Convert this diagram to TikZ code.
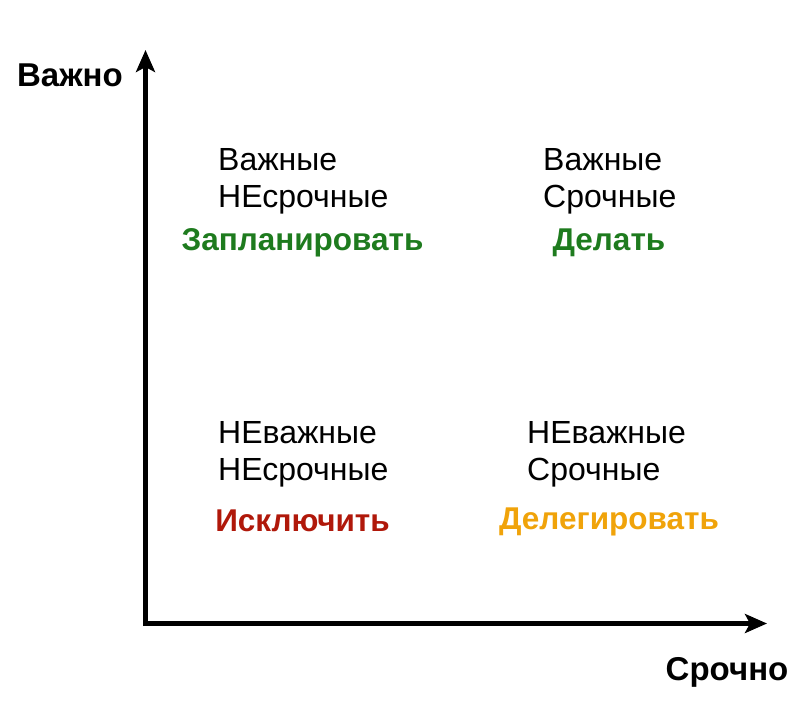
\documentclass[tikz,border=0pt]{standalone}
\usepackage{fontspec}
\setmainfont{Liberation Sans}
\usetikzlibrary{arrows.meta}
\definecolor{cgreen}{HTML}{1E7B1E}
\definecolor{cred}{HTML}{B0180A}
\definecolor{corange}{HTML}{F0A30A}
\tikzset{
  axis/.style={line width=4.5pt, -{Stealth[length=22pt,width=19pt,inset=5pt]}},
  plain/.style={font=\fontsize{32}{37}\selectfont, align=left, inner sep=0pt, anchor=west},
  action/.style={font=\bfseries\fontsize{31.5}{37}\selectfont, inner sep=0pt},
  axlabel/.style={font=\bfseries\fontsize{33}{37}\selectfont, inner sep=0pt}
}
\begin{document}
\begin{tikzpicture}[x=1pt,y=-1pt]
\useasboundingbox (0,0) rectangle (800,722);
\coordinate (ytip) at (145.5,50);
\coordinate (xtip) at (767,623.5);
\draw[axis] (145.5,626) -- (ytip);
\draw[axis] (143,623.5) -- (xtip);
\node[axlabel] (yl) at (70,75) {Важно};
\node[axlabel] (xl) at (727,672) {Срочно};
\node[plain] (q1) at (218,181.5) {Важные\\НЕсрочные};
\node[action, text=cgreen] (a1) at (302.5,243) {Запланировать};
\node[plain] (q2) at (543,181.5) {Важные\\Срочные};
\node[action, text=cgreen] (a2) at (609,243) {Делать};
\node[plain] (q3) at (218,454) {НЕважные\\НЕсрочные};
\node[action, text=cred] (a3) at (302.5,521) {Исключить};
\node[plain] (q4) at (527,454) {НЕважные\\Срочные};
\node[action, text=corange] (a4) at (609,522) {Делегировать};
\end{tikzpicture}
\end{document}
